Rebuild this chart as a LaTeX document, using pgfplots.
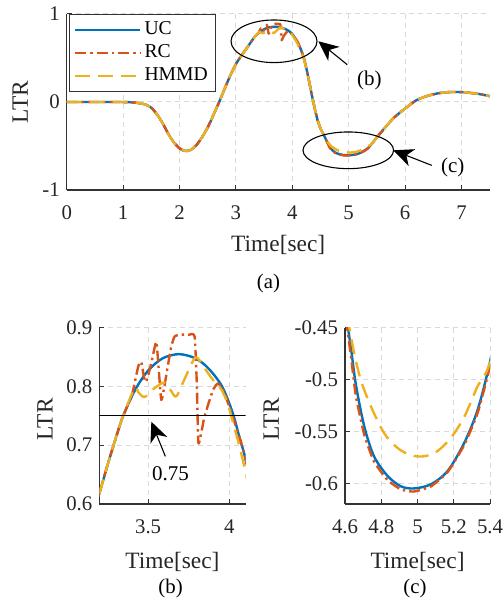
\documentclass[border=0pt]{standalone}
\usepackage{fontspec}
\setmainfont{Liberation Serif}
\usepackage{pgfplots}
\pgfplotsset{compat=1.18}
\usepackage{pgfplotstable}
\usetikzlibrary{arrows.meta}

\definecolor{ucblue}{RGB}{0,114,189}
\definecolor{rcorange}{RGB}{217,83,25}
\definecolor{hmyellow}{RGB}{237,177,32}

% LTR of the three controllers
\pgfplotstableread{
x y
0 0
0.3 0
0.6 0
0.9 0
1.1 -0.002
1.2 -0.006
1.3 -0.015
1.4 -0.03
1.5 -0.065
1.6 -0.14
1.7 -0.24
1.8 -0.36
1.9 -0.46
2.0 -0.527
2.06 -0.549
2.12 -0.557
2.2 -0.545
2.3 -0.49
2.4 -0.40
2.5 -0.29
2.6 -0.15
2.7 -0.005
2.8 0.15
2.9 0.30
3.0 0.43
3.1 0.53
3.2 0.618
3.26 0.675
3.34 0.745
3.42 0.794
3.5 0.827
3.59 0.848
3.69 0.855
3.79 0.848
3.87 0.831
3.955 0.80
4.02 0.755
4.06 0.715
4.1 0.675
4.15 0.60
4.2 0.51
4.25 0.38
4.3 0.23
4.35 0.07
4.4 -0.08
4.45 -0.21
4.5 -0.30
4.55 -0.365
4.6 -0.43
4.633 -0.47
4.66 -0.505
4.706 -0.545
4.76 -0.574
4.835 -0.593
4.909 -0.603
4.98 -0.605
5.074 -0.601
5.167 -0.588
5.258 -0.561
5.332 -0.529
5.4 -0.483
5.5 -0.40
5.6 -0.325
5.7 -0.25
5.8 -0.18
5.9 -0.125
6.0 -0.075
6.1 -0.025
6.2 0.02
6.3 0.048
6.4 0.07
6.5 0.087
6.6 0.10
6.7 0.108
6.8 0.113
6.9 0.114
7.0 0.112
7.1 0.108
7.2 0.10
7.3 0.092
7.4 0.08
7.5 0.066
}\uc

\pgfplotstableread{
x y
0 0
0.3 0
0.6 0
0.9 0
1.1 -0.002
1.2 -0.006
1.3 -0.015
1.4 -0.03
1.5 -0.065
1.6 -0.14
1.7 -0.24
1.8 -0.36
1.9 -0.46
2.0 -0.527
2.06 -0.549
2.12 -0.557
2.2 -0.545
2.3 -0.49
2.4 -0.40
2.5 -0.29
2.6 -0.15
2.7 -0.005
2.8 0.15
2.9 0.30
3.0 0.43
3.1 0.53
3.2 0.618
3.26 0.675
3.34 0.745
3.40 0.785
3.44 0.835
3.458 0.842
3.475 0.815
3.489 0.808
3.52 0.84
3.55 0.876
3.565 0.83
3.581 0.777
3.60 0.80
3.64 0.865
3.663 0.885
3.70 0.888
3.75 0.888
3.786 0.885
3.80 0.80
3.81 0.703
3.847 0.749
3.90 0.795
3.93 0.805
3.96 0.795
4.0 0.765
4.06 0.715
4.1 0.675
4.15 0.60
4.2 0.51
4.25 0.38
4.3 0.23
4.35 0.07
4.4 -0.08
4.45 -0.21
4.5 -0.30
4.55 -0.367
4.6 -0.435
4.633 -0.478
4.66 -0.516
4.706 -0.553
4.76 -0.579
4.835 -0.597
4.909 -0.606
4.98 -0.608
5.074 -0.603
5.167 -0.589
5.258 -0.563
5.332 -0.532
5.4 -0.487
5.5 -0.40
5.6 -0.325
5.7 -0.25
5.8 -0.18
5.9 -0.125
6.0 -0.075
6.1 -0.025
6.2 0.02
6.3 0.048
6.4 0.07
6.5 0.087
6.6 0.10
6.7 0.108
6.8 0.113
6.9 0.114
7.0 0.112
7.1 0.108
7.2 0.10
7.3 0.092
7.4 0.08
7.5 0.066
}\rc

\pgfplotstableread{
x y
0 0
0.3 0
0.6 0
0.9 0
1.1 -0.002
1.2 -0.006
1.3 -0.015
1.4 -0.03
1.5 -0.065
1.6 -0.14
1.7 -0.24
1.8 -0.36
1.9 -0.46
2.0 -0.527
2.06 -0.549
2.12 -0.557
2.2 -0.545
2.3 -0.49
2.4 -0.40
2.5 -0.29
2.6 -0.15
2.7 -0.005
2.8 0.15
2.9 0.30
3.0 0.43
3.1 0.53
3.2 0.618
3.26 0.675
3.34 0.745
3.417 0.797
3.44 0.79
3.478 0.782
3.53 0.795
3.60 0.807
3.64 0.793
3.673 0.783
3.72 0.81
3.786 0.848
3.82 0.843
3.86 0.826
3.90 0.811
3.95 0.795
3.99 0.77
4.03 0.73
4.06 0.70
4.1 0.652
4.15 0.575
4.2 0.50
4.25 0.375
4.3 0.23
4.35 0.07
4.4 -0.08
4.45 -0.21
4.5 -0.30
4.55 -0.365
4.6 -0.425
4.624 -0.45
4.651 -0.475
4.688 -0.501
4.743 -0.526
4.817 -0.552
4.89 -0.566
4.964 -0.573
5.037 -0.574
5.11 -0.569
5.185 -0.556
5.258 -0.536
5.33 -0.507
5.4 -0.483
5.5 -0.40
5.6 -0.325
5.7 -0.25
5.8 -0.18
5.9 -0.125
6.0 -0.075
6.1 -0.025
6.2 0.02
6.3 0.048
6.4 0.07
6.5 0.087
6.6 0.10
6.7 0.108
6.8 0.113
6.9 0.114
7.0 0.112
7.1 0.108
7.2 0.10
7.3 0.092
7.4 0.08
7.5 0.066
}\hmmd

\pgfplotsset{
  ltr/.style={
    scale only axis, anchor=south west,
    axis lines=left, axis line style={-, draw=black!80, line width=0.55bp},
    enlargelimits=false, tick align=inside, major tick length=2.5bp,
    tick style={draw=black!80, line width=0.5bp},
    grid=major, grid style={dash pattern=on 2.5bp off 2bp, draw=black!15, line width=0.5bp},
    ticklabel style={font=\fontsize{10.4bp}{12bp}\selectfont, text=black!85},
    xticklabel style={yshift=-4.5bp},
    label style={font=\fontsize{11.7bp}{14bp}\selectfont, text=black!85},
    xlabel={Time[sec]}, ylabel={LTR},
    legend image code/.code={\draw[##1] (0bp,0bp) -- (32.5bp,0bp);},
  },
  ucline/.style={ucblue, line width=1.2bp, line join=round, smooth, tension=0.5},
  rcline/.style={rcorange, line width=1.2bp, line join=round, smooth, tension=0.3, dash pattern=on 5.5bp off 2bp on 1.2bp off 2bp},
  hmline/.style={hmyellow, line width=1.2bp, line join=round, smooth, tension=0.5, dash pattern=on 7.5bp off 4bp},
}
\newcommand{\threecurves}{%
  \addplot[ucline] table[x=x,y=y] {\uc};
  \addplot[rcline] table[x=x,y=y] {\rc};
  \addplot[hmline] table[x=x,y=y] {\hmmd};
}
\tikzset{annarrow/.style={black, line width=0.55bp, -{Stealth[length=10bp, width=9bp, inset=3bp]}}}

\begin{document}
\begin{tikzpicture}
\useasboundingbox (0,0) rectangle (251.5bp,304bp);

% (a) whole manoeuvre
\begin{axis}[ltr, at={(33.35bp,209bp)}, width=211.5bp, height=88bp,
  xmin=0, xmax=7.5, ymin=-1, ymax=1,
  xtick={0,1,2,3,4,5,6,7}, xticklabels={0,1,2,3,4,5,6,7},
  ytick={-1,0,1}, yticklabels={-1,0,1},
  xlabel style={at={(axis description cs:0.5,-0.315)}, anchor=center},
  ylabel style={at={(axis description cs:-0.11,0.5)}, anchor=center},
  legend cell align=left,
  legend style={at={(axis description cs:0.006,1)}, anchor=north west,
    draw=black!80, line width=0.55bp, inner xsep=2.2bp, inner ysep=2bp,
    font=\fontsize{9.8bp}{11bp}\selectfont, row sep=0pt,
    nodes={inner xsep=1.5bp, inner ysep=1bp, text height=7.2bp, text depth=2.3bp}},
]
\threecurves
\legend{UC,RC,HMMD}
\draw[black, line width=0.55bp] (axis cs:3.676,0.69) ellipse [x radius=21.5bp, y radius=10.65bp];
\draw[black, line width=0.55bp] (axis cs:4.993,-0.549) ellipse [x radius=22.65bp, y radius=9.17bp];
\draw[annarrow] (axis cs:4.975,0.424) -- (axis cs:4.461,0.69);
\draw[annarrow] (axis cs:6.472,-0.72) -- (axis cs:5.791,-0.549);
\node[font=\fontsize{10.5bp}{12bp}\selectfont] at (axis cs:5.365,0.246) {(b)};
\node[font=\fontsize{10.5bp}{12bp}\selectfont] at (axis cs:6.844,-0.746) {(c)};
\end{axis}

% (b) zoom on the peak
\begin{axis}[ltr, at={(49.65bp,52bp)}, width=73.2bp, height=88.15bp,
  xmin=3.2, xmax=4.1, ymin=0.6, ymax=0.9,
  xtick={3.5,4}, xticklabels={3.5,4},
  ytick={0.6,0.7,0.8,0.9}, yticklabels={0.6,0.7,0.8,0.9},
  xlabel style={at={(axis description cs:0.5,-0.33)}, anchor=center},
  ylabel style={at={(axis description cs:-0.371,0.48)}, anchor=center},
]
\threecurves
\addplot[black, line width=0.6bp] coordinates {(3.2,0.75) (4.1,0.75)};
\draw[annarrow] (axis cs:3.606,0.681) -- (axis cs:3.52,0.74);
\node[font=\fontsize{10.5bp}{12bp}\selectfont] at (axis cs:3.637,0.652) {0.75};
\end{axis}

% (c) zoom on the trough
\begin{axis}[ltr, at={(172.5bp,52bp)}, width=72.5bp, height=88.15bp,
  xmin=4.6, xmax=5.4, ymin=-0.62, ymax=-0.45,
  xtick={4.6,4.8,5,5.2,5.4}, xticklabels={4.6,4.8,5,5.2,5.4},
  ytick={-0.6,-0.55,-0.5,-0.45}, yticklabels={-0.6,-0.55,-0.5,-0.45},
  xlabel style={at={(axis description cs:0.5,-0.33)}, anchor=center},
  ylabel style={at={(axis description cs:-0.509,0.48)}, anchor=center},
]
\threecurves
\end{axis}

\node[font=\fontsize{10.4bp}{12bp}\selectfont] at (134.2bp,162.35bp) {(a)};
\node[font=\fontsize{10.4bp}{12bp}\selectfont] at (85.3bp,9.85bp) {(b)};
\node[font=\fontsize{10.4bp}{12bp}\selectfont] at (207.5bp,9.85bp) {(c)};
\end{tikzpicture}
\end{document}
